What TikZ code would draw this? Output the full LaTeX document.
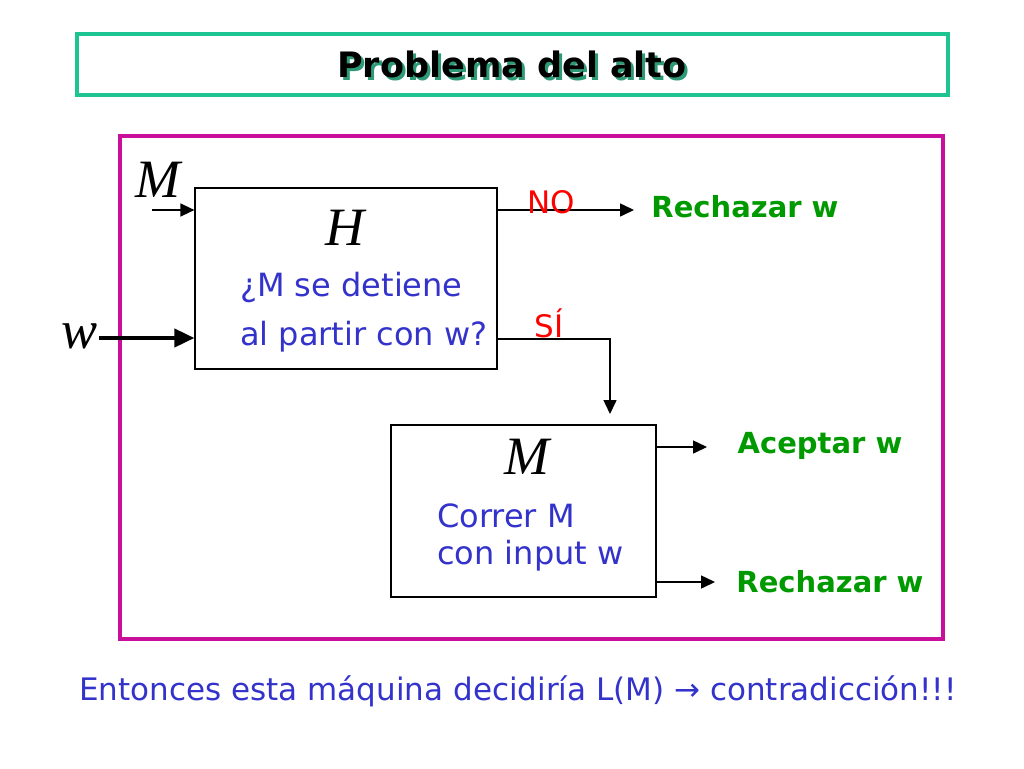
\documentclass[tikz,border=0pt]{standalone}
\usepackage{fontspec}
\setmainfont{DejaVu Sans}
\newfontfamily\tms{Liberation Serif}
\usetikzlibrary{arrows.meta}
\definecolor{mag}{HTML}{C8109A}
\definecolor{mint}{HTML}{1DC391}
\definecolor{mintdark}{HTML}{2E9A78}
\definecolor{txtblue}{HTML}{3333CC}
\definecolor{txtgreen}{HTML}{009A00}
\definecolor{txtred}{HTML}{FF0000}
\tikzset{
  boxstyle/.style={draw=black, line width=1.2pt, fill=white, inner sep=0pt},
  thinarrow/.style={draw=black, line width=1.5pt, -{Triangle[length=14pt,width=13pt]}},
  thickarrow/.style={draw=black, line width=4pt, -{Triangle[length=20pt,width=18pt]}},
  bluetxt/.style={text=txtblue, font=\fontsize{32}{36}\selectfont, anchor=west, inner sep=0pt},
  greentxt/.style={text=txtgreen, font=\fontsize{29}{33}\selectfont\bfseries, inner sep=0pt},
  redtxt/.style={text=txtred, font=\fontsize{31}{34}\selectfont, inner sep=0pt},
  mathtxt/.style={font=\fontsize{54}{58}\selectfont\tms\itshape, inner sep=0pt},
}
\newcommand{\shadowtext}[1]{\makebox[0pt][l]{\hspace{3pt}\raisebox{-3pt}{\color{mintdark}#1}}#1}
\begin{document}
\begin{tikzpicture}[x=1pt,y=-1pt]
\useasboundingbox (0,0) rectangle (1024,768);
% title
\draw[mint, line width=4pt] (77,34) rectangle (948,95);
\node[inner sep=0pt, text=black, font=\fontsize{35}{38}\selectfont\bfseries] (title) at (512,66) {\shadowtext{Problema del alto}};
% outer frame
\draw[mag, line width=4pt] (120,136) rectangle (943,639);
% H box
\node[boxstyle, minimum width=302pt, minimum height=181pt] (Hbox) at (346,278.5) {};
\node[mathtxt] (Hl) at (345,228) {H};
\node[bluetxt] (q1) at (240,287) {¿M se detiene};
\node[bluetxt] (q2) at (240,337) {al partir con w?};
% M box
\node[boxstyle, minimum width=265pt, minimum height=172pt] (Mbox) at (523.5,511) {};
\node[mathtxt] (Ml2) at (527,457) {M};
\node[bluetxt] (c1) at (437,516) {Correr M};
\node[bluetxt] (c2) at (437,556) {con input w};
% inputs
\node[mathtxt] (Ml) at (158,180) {M};
\node[mathtxt] (wl) at (80,336) {w};
\coordinate (Mstart) at (152,210);
\draw[thinarrow] (Mstart) -- (Mstart -| Hbox.west);
\coordinate (wstart) at (99,338);
\draw[thickarrow] (wstart) -- (wstart -| Hbox.west);
% NO
\coordinate (NOstart) at (497,210);
\coordinate (NOend) at (634,210);
\draw[thinarrow] (NOstart) -- (NOend);
\node[redtxt] (NO) at (551,202) {NO};
\node[greentxt] (rej1) at (745,207) {Rechazar w};
% SI
\coordinate (SIstart) at (497,339);
\coordinate (SIcorner) at (610,339);
\draw[thinarrow] (SIstart) -- (SIcorner) -- (SIcorner |- 0,414);
\node[redtxt] (SI) at (549,323) {SÍ};
% outputs of M
\coordinate (Aend) at (707,447);
\coordinate (Rend) at (715,582);
\draw[thinarrow] (Mbox.east |- Aend) -- (Aend);
\draw[thinarrow] (Mbox.east |- Rend) -- (Rend);
\node[greentxt] (acc) at (820,446) {Aceptar w};
\node[greentxt] (rej2) at (830,582) {Rechazar w};
% bottom
\node[text=txtblue, font=\fontsize{31}{34}\selectfont, inner sep=0pt] (bottom) at (518,691) {Entonces esta máquina decidiría L(M) → contradicción!!!};
\end{tikzpicture}
\end{document}
